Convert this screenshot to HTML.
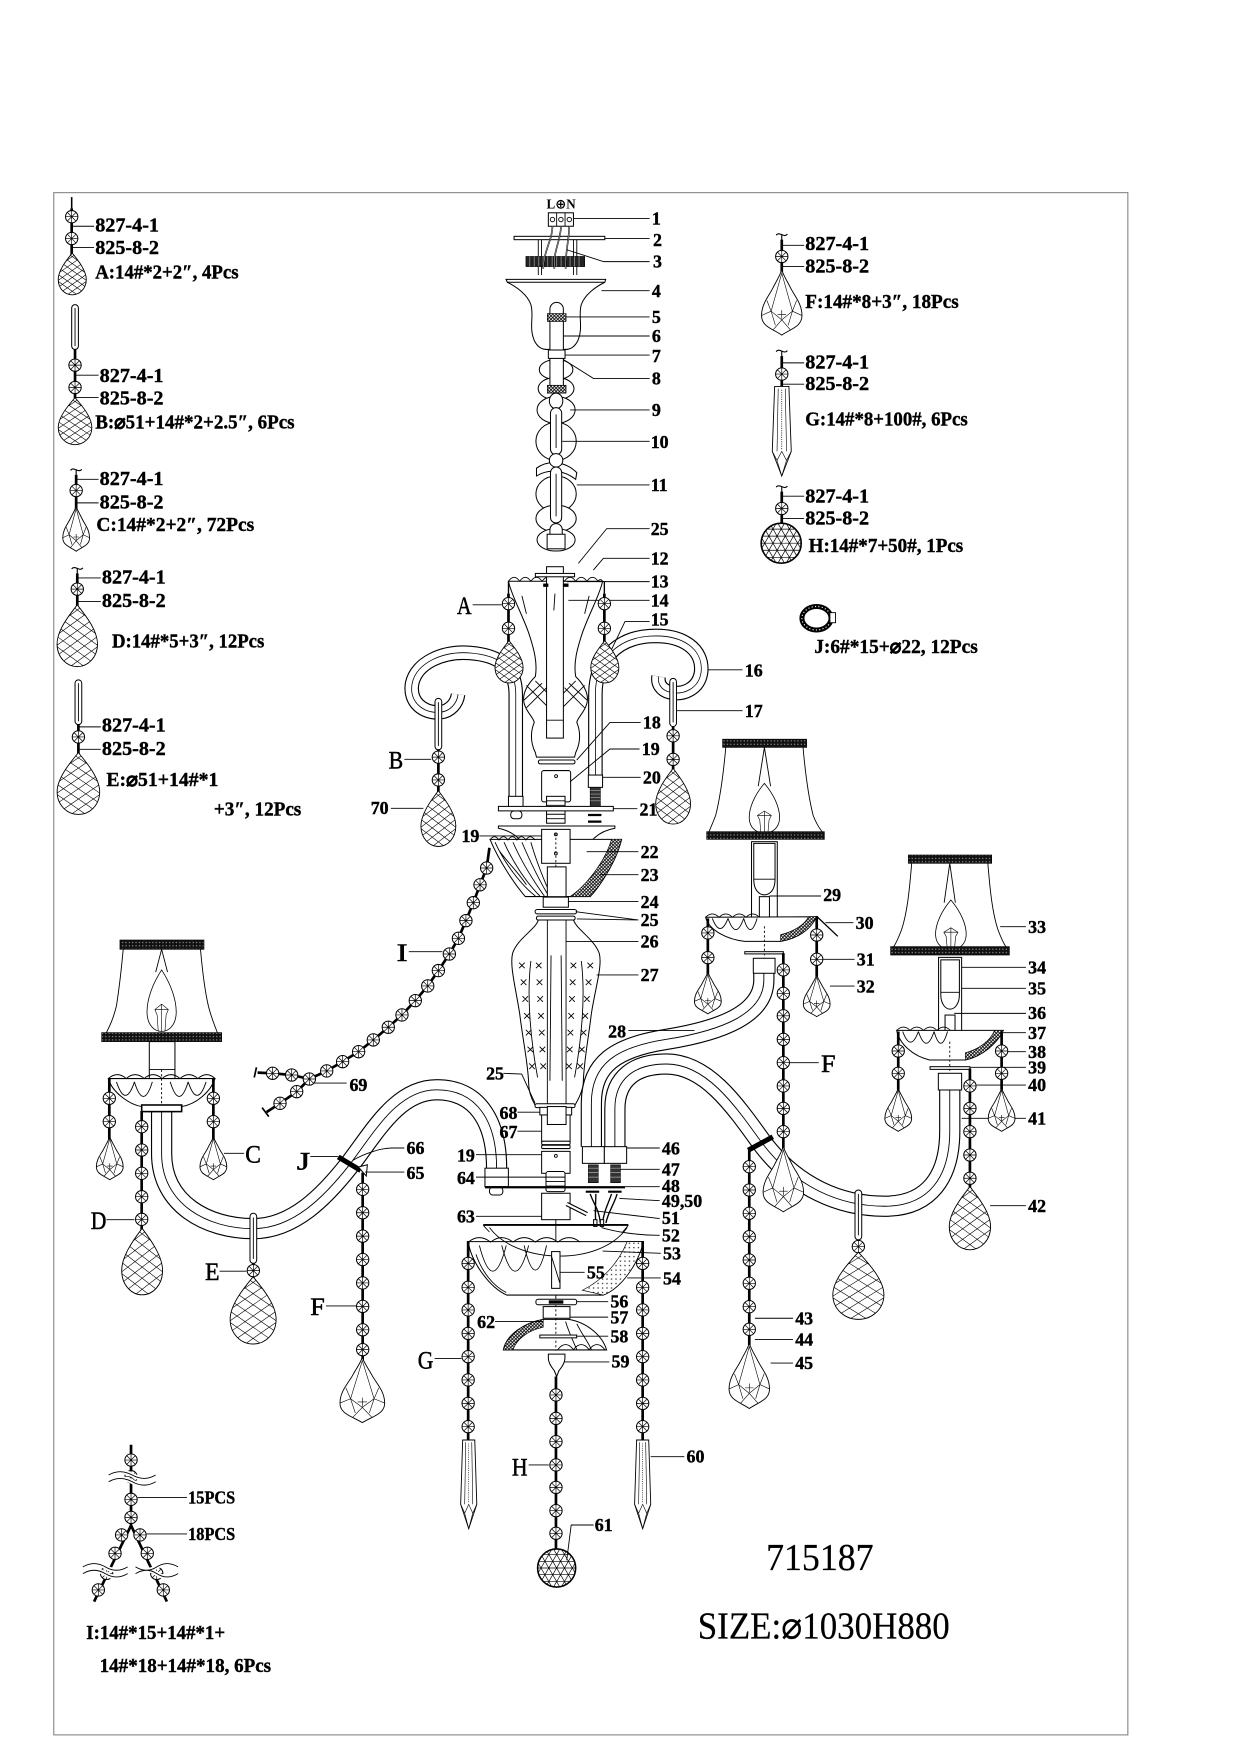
<!DOCTYPE html>
<html><head><meta charset="utf-8">
<style>
body{margin:0;background:#fff}
svg{display:block}
.s{fill:none;stroke:#000;stroke-width:0.8}
.w{fill:#fff;stroke:#000;stroke-width:0.9}
.st{stroke:#000;stroke-width:2.4;fill:none}
.h{fill:url(#hatch);stroke:#000;stroke-width:0.6}
.bd{fill:url(#band);stroke:#000;stroke-width:0.6}
.n{font-family:"Liberation Serif",serif;font-weight:bold;font-size:16px;stroke:#000;stroke-width:0.35}
.lg{font-family:"Liberation Serif","DejaVu Serif",serif;font-weight:bold;font-size:18px;stroke:#000;stroke-width:0.35}
.L{font-family:"Liberation Serif",serif;font-size:23px;stroke:#000;stroke-width:0.45}
.big{font-family:"Liberation Serif","DejaVu Serif",serif;font-size:34px;stroke:#000;stroke-width:0.2}
</style></head><body>
<svg width="1240" height="1755" viewBox="0 0 1107.14 1566.96" xmlns="http://www.w3.org/2000/svg">
<defs>
<pattern id="hatch" width="3" height="3" patternUnits="userSpaceOnUse"><rect width="3" height="3" fill="#fff"/><path d="M0,0L3,3M3,0L0,3" stroke="#000" stroke-width="0.7"/></pattern>
<pattern id="dots" width="4" height="4" patternUnits="userSpaceOnUse"><rect width="4" height="4" fill="#fff"/><circle cx="2" cy="2" r="0.6" fill="#000"/></pattern>
<pattern id="band" width="3" height="3" patternUnits="userSpaceOnUse"><rect width="3" height="3" fill="#111"/><circle cx="1.5" cy="1.5" r="0.55" fill="#aaa"/></pattern>
<g id="ros"><circle r="5.5" fill="#fff" stroke="#000" stroke-width="0.9"/><path d="M-5.5,0H5.5M0,-5.5V5.5M-3.9,-3.9L3.9,3.9M-3.9,3.9L3.9,-3.9" stroke="#000" stroke-width="0.6"/></g>
<clipPath id="cdrop"><path d="M0,0 C-6,8 -19,24 -19,38 C-19,51 -10,60 0,60 C10,60 19,51 19,38 C19,24 6,8 0,0Z"/></clipPath>
<g id="drop"><path d="M0,0 C-6,8 -19,24 -19,38 C-19,51 -10,60 0,60 C10,60 19,51 19,38 C19,24 6,8 0,0Z" fill="#fff" stroke="#000" stroke-width="0.9" vector-effect="non-scaling-stroke"/>
<g clip-path="url(#cdrop)"><path d="M-20,-30L20,0M-20,-20L20,10M-20,-10L20,20M-20,0L20,30M-20,10L20,40M-20,20L20,50M-20,30L20,60M-20,40L20,70M-20,50L20,80M20,-30L-20,0M20,-20L-20,10M20,-10L-20,20M20,0L-20,30M20,10L-20,40M20,20L-20,50M20,30L-20,60M20,40L-20,70M20,50L-20,80" stroke="#000" stroke-width="0.6" fill="none" vector-effect="non-scaling-stroke"/></g></g>
<g id="pear"><path d="M0,0 C-2,6 -5,10 -8,16 C-12,24 -19,31 -19,42 C-19,52 -9,54 0,60 C9,54 19,52 19,42 C19,31 12,24 8,16 C5,10 2,6 0,0Z" fill="#fff" stroke="#000" stroke-width="0.9" vector-effect="non-scaling-stroke"/>
<path d="M0,3 L-10,38 L0,46 L10,38 Z M-19,42 L-10,38 M19,42 L10,38 M0,46 L-8,55 M0,46 L8,55 M-10,38 L-6,51 M10,38 L6,51 M-14,28 L-10,38 M14,28 L10,38 M-4,41 L4,41 M0,37 V45" stroke="#000" stroke-width="0.6" fill="none" vector-effect="non-scaling-stroke"/></g>
<g id="icicle"><path d="M-6,0 L6,0 L8,58 L0,80 L-8,58Z" fill="#fff" stroke="#000" stroke-width="0.9" vector-effect="non-scaling-stroke"/>
<path d="M-3,2 L-4,58 M3,2 L4,58 M-8,58 L-4,66 L0,58 L4,66 L8,58 M-4,66 L0,80 L4,66" stroke="#000" stroke-width="0.6" fill="none" vector-effect="non-scaling-stroke"/><path d="M0,3V57" stroke="#000" stroke-width="0.6" stroke-dasharray="1 1"/></g>
<clipPath id="cball"><circle r="17"/></clipPath>
<g id="ball"><circle r="17" fill="#fff" stroke="#000" stroke-width="1.4"/><g clip-path="url(#cball)"><path d="M-20,-12H20M-20,-6H20M-20,0H20M-20,6H20M-20,12H20M-34,-34.6L6,34.6M-27,-34.6L13,34.6M-20,-34.6L20,34.6M-13,-34.6L27,34.6M-6,-34.6L34,34.6M1,-34.6L41,34.6M-41,-34.6L-1,34.6M34,-34.6L-6,34.6M27,-34.6L-13,34.6M20,-34.6L-20,34.6M13,-34.6L-27,34.6M6,-34.6L-34,34.6M-1,-34.6L-41,34.6M41,-34.6L1,34.6" stroke="#000" stroke-width="0.6" fill="none"/></g></g>
<g id="bulb"><path d="M0,0 C-8,10 -13.5,22 -13,32 C-12.5,40 -7,45 0,45 C7,45 12.5,40 13,32 C13.5,22 8,10 0,0Z" fill="#fff" stroke="#000" stroke-width="0.8" vector-effect="non-scaling-stroke"/><path d="M-3,45 L-4,33 L-6,29 L0,25 L6,29 L4,33 L3,45 M-6,29 H6 M0,25 V45" stroke="#000" stroke-width="0.6" fill="none" vector-effect="non-scaling-stroke"/></g>
<g id="hook"><path d="M-5,0 C-2,-4 2,3 5,-1 M0,-1 V6" stroke="#000" stroke-width="1" fill="none"/></g>
<path id="armL" d="M144.3,992 L144.3,1030 C144.3,1075 185,1097 226,1097 C262,1097 290,1068 312,1040 C335,1010 355,973 390,973 C425,973 443.4,1000 443.4,1043"/>
<path id="armU" d="M528,1024 L528,985 C528,950 550,935 595,928 C645,920 682,905 682,875 L682,869"/>
<path id="armR" d="M549,1024 L549,990 C549,962 568,950 595,950 C630,950 655,985 680,1020 C710,1060 750,1077 790,1077 C830,1077 848,1050 848,1010 L848,973"/>
<path id="arm16L" d="M460.5,711 L460.5,620 C460.5,595 445,585 420,583 C395,581 372,592 368,610 C365,627 378,637 393,636 C402,635 408,628 409,620"/>
<path id="arm16R" d="M531.6,693 L531.6,620 C531.6,590 550,570 580,568 C610,566 628,580 626,600 C624,615 610,621 598,618 C590,616 587,610 588,604"/>
</defs>
<rect width="1107.14" height="1566.96" fill="#fff"/>
<rect x="48" y="172" width="959" height="1377" fill="none" stroke="#888" stroke-width="1"/>

<!-- ===== LEFT LEGEND ===== -->
<path d="M64,176V186" stroke="#000" stroke-width="1.4"/><path class="st" d="M64,186V228"/>
<use href="#ros" x="64" y="193.5"/><use href="#ros" x="64" y="213"/>
<use href="#drop" transform="translate(64.5,226) scale(0.66,0.62)"/>
<path class="s" d="M65,202H84M65,221H84"/>
<text class="lg" x="85" y="206.5">827-4-1</text><text class="lg" x="85" y="227">825-8-2</text>
<text class="lg" x="85" y="248.5" textLength="128" lengthAdjust="spacingAndGlyphs">A:14#*2+2″, 4Pcs</text>

<rect class="w" x="64" y="272" width="6" height="40" rx="3"/><path class="s" d="M67,275V309"/>
<path class="st" d="M67,312V358"/>
<use href="#ros" x="67" y="326"/><use href="#ros" x="67" y="346"/>
<use href="#drop" transform="translate(67,355) scale(0.79,0.7)"/>
<path class="s" d="M68,335H88M68,355H88"/>
<text class="lg" x="89" y="341">827-4-1</text><text class="lg" x="89" y="361">825-8-2</text>
<text class="lg" x="85" y="382.5" textLength="178" lengthAdjust="spacingAndGlyphs">B:⌀51+14#*2+2.5″, 6Pcs</text>

<use href="#hook" x="68" y="420"/><path class="st" d="M68,424V455"/>
<use href="#ros" x="68" y="438"/>
<use href="#pear" transform="translate(68,452) scale(0.63,0.67)"/>
<path class="s" d="M69,428H88M69,449H88"/>
<text class="lg" x="89" y="433">827-4-1</text><text class="lg" x="89" y="454">825-8-2</text>
<text class="lg" x="86" y="474" textLength="141" lengthAdjust="spacingAndGlyphs">C:14#*2+2″, 72Pcs</text>

<use href="#hook" x="69" y="508"/><path class="st" d="M69,512V542"/>
<use href="#ros" x="69" y="526"/>
<use href="#drop" transform="translate(69,540) scale(0.95,0.92)"/>
<path class="s" d="M70,516H90M70,537H90"/>
<text class="lg" x="91" y="521">827-4-1</text><text class="lg" x="91" y="542">825-8-2</text>
<text class="lg" x="100" y="578" textLength="136" lengthAdjust="spacingAndGlyphs">D:14#*5+3″, 12Pcs</text>

<rect class="w" x="67" y="607" width="6" height="40" rx="3"/><path class="s" d="M70,610V644"/>
<path class="st" d="M70,647V675"/>
<use href="#ros" x="70" y="658"/>
<use href="#drop" transform="translate(70,672) scale(1,0.92)"/>
<path class="s" d="M71,649H90M71,669H90"/>
<text class="lg" x="91" y="653">827-4-1</text><text class="lg" x="91" y="674">825-8-2</text>
<text class="lg" x="95" y="702" textLength="100" lengthAdjust="spacingAndGlyphs">E:⌀51+14#*1</text>
<text class="lg" x="191" y="728" textLength="78" lengthAdjust="spacingAndGlyphs">+3″, 12Pcs</text>

<!-- ===== RIGHT LEGEND ===== -->
<use href="#hook" x="698" y="210"/><path class="st" d="M698,214V243"/>
<use href="#ros" x="698" y="229"/>
<use href="#pear" transform="translate(698,241) scale(0.95,0.97)"/>
<path class="s" d="M699,219H718M699,238H718"/>
<text class="lg" x="719" y="223">827-4-1</text><text class="lg" x="719" y="243.5">825-8-2</text>
<text class="lg" x="719" y="275" textLength="137" lengthAdjust="spacingAndGlyphs">F:14#*8+3″, 18Pcs</text>

<use href="#hook" x="698" y="314"/><path class="st" d="M698,318V347"/>
<use href="#ros" x="698" y="334"/>
<use href="#icicle" transform="translate(698,345) scale(1.06,1)"/>
<path class="s" d="M699,324H718M699,343H718"/>
<text class="lg" x="719" y="329">827-4-1</text><text class="lg" x="719" y="348">825-8-2</text>
<text class="lg" x="719" y="380" textLength="145" lengthAdjust="spacingAndGlyphs">G:14#*8+100#, 6Pcs</text>

<use href="#hook" x="698" y="435"/><path class="st" d="M698,439V470"/>
<use href="#ros" x="698" y="454"/>
<use href="#ball" transform="translate(697.5,485) scale(1.05)"/>
<path class="s" d="M699,443H718M699,463H718"/>
<text class="lg" x="719" y="448.5">827-4-1</text><text class="lg" x="719" y="468.5">825-8-2</text>
<text class="lg" x="722" y="493" textLength="138" lengthAdjust="spacingAndGlyphs">H:14#*7+50#, 1Pcs</text>

<ellipse cx="729" cy="552" rx="13" ry="10.5" fill="none" stroke="#000" stroke-width="4.5"/>
<ellipse cx="729" cy="552" rx="13" ry="10.5" fill="none" stroke="#fff" stroke-width="1" stroke-dasharray="1 2"/>
<rect x="741" y="547" width="5" height="9" fill="#fff" stroke="#000" stroke-width="0.8"/>
<text class="lg" x="727" y="583" textLength="146" lengthAdjust="spacingAndGlyphs">J:6#*15+⌀22, 12Pcs</text>

<!-- ===== TOP COLUMN ===== -->
<text x="488" y="186" style="font-family:'Liberation Serif','DejaVu Sans',serif;font-weight:bold;font-size:12px" textLength="26" lengthAdjust="spacingAndGlyphs">L⊕N</text>
<rect class="w" x="489.6" y="190" width="22.4" height="12"/>
<path class="s" d="M497,190V202M504.5,190V202"/>
<circle cx="493.3" cy="196" r="2" class="s"/><circle cx="500.8" cy="196" r="2" class="s"/><circle cx="508.3" cy="196" r="2" class="s"/>
<path class="s" d="M512,195H580"/><text class="n" x="582" y="200.5">1</text>
<rect class="w" x="459" y="211" width="81" height="3"/>
<path class="s" d="M540,213H580"/><text class="n" x="583" y="219.5">2</text>
<path class="s" d="M480.6,214V245.5M515,214V245.5M483.5,214V245.5M512,214V245.5"/>
<rect x="469.6" y="229" width="52.4" height="9" fill="#222" stroke="#000" stroke-width="0.6"/>
<path d="M473,229V238M477,229V238M481,229V238M485,229V238M489,229V238M493,229V238M497,229V238M501,229V238M505,229V238M509,229V238M513,229V238M517,229V238" stroke="#888" stroke-width="0.8"/>
<path d="M493.3,202 C493,215 486,222 485,240 M500.8,202 C501,215 494,222 495,240 M508.3,202 C508,215 505,222 505,240" stroke="#000" stroke-width="1.4" fill="none"/>
<path d="M493.3,202 C493,215 486,222 485,240 M500.8,202 C501,215 494,222 495,240 M508.3,202 C508,215 505,222 505,240" stroke="#fff" stroke-width="0.4" fill="none"/>
<path class="s" d="M506,223 L539,233.6 H580"/><text class="n" x="583" y="239">3</text>
<path class="w" d="M451.8,249.4 H540.8 L540,252 C532,256 522,263 519,272 C516,282 521,292 516,304 C513,310 509,312 505,312 L488,312 C484,312 480,310 477,304 C472,292 477,282 474,272 C471,263 461,256 453,252 Z"/>
<path class="s" d="M453,252 H540"/>
<path class="s" d="M537,259.5H580"/><text class="n" x="582" y="265">4</text>
<!-- beads -->
<ellipse class="w" cx="496.5" cy="330" rx="15" ry="9"/>
<ellipse class="w" cx="496.5" cy="347" rx="16" ry="10"/>
<ellipse class="w" cx="496.5" cy="366" rx="17" ry="12"/>
<ellipse class="w" cx="496.5" cy="394" rx="18" ry="17"/>
<path class="w" d="M479,418 C490,410 505,412 515,422 L514,428 C504,420 490,418 479,425Z"/>
<ellipse class="w" cx="496.5" cy="441" rx="18" ry="16"/>
<ellipse class="w" cx="496.5" cy="463" rx="18" ry="12"/>
<ellipse class="w" cx="496.5" cy="482" rx="17" ry="10"/>
<!-- rod & chain -->
<path class="w" d="M491,348 V276 A6,6 0 0 1 503,276 V348 Z"/>
<rect class="h" x="488.7" y="280" width="16.7" height="7"/>
<rect class="w" x="489.6" y="312.5" width="14.9" height="7.5"/>
<rect class="h" x="488.7" y="344" width="16.7" height="7"/>
<ellipse class="w" cx="496.5" cy="358" rx="6" ry="7" stroke-width="1.6"/>
<rect class="w" x="491.5" y="364" width="10" height="42" rx="5" stroke-width="1.6"/>
<path class="s" d="M496.5,370V400"/>
<ellipse class="w" cx="496.5" cy="411" rx="6" ry="6" stroke-width="1.6"/>
<rect class="w" x="491.5" y="417" width="10" height="50" rx="5" stroke-width="1.6"/>
<path class="s" d="M496.5,423V461"/>
<path class="w" d="M491,478 V473 A5.5,5.5 0 0 1 502,473 V478" stroke-width="1.5"/>
<rect class="w" x="488.5" y="477" width="16" height="13" stroke-width="1.3"/>
<path class="s" d="M505,283H580"/><text class="n" x="582" y="288.5">5</text>
<path class="s" d="M503,300H580"/><text class="n" x="582" y="305.5">6</text>
<path class="s" d="M504.5,317H580"/><text class="n" x="582" y="323">7</text>
<path class="s" d="M503,321 L530,338 H580"/><text class="n" x="582" y="343.5">8</text>
<path class="s" d="M509,366H580"/><text class="n" x="582" y="371.5">9</text>
<path class="s" d="M502,394H580"/><text class="n" x="581" y="400">10</text>
<path class="s" d="M515,433H580"/><text class="n" x="581" y="438.5">11</text>
<path class="s" d="M580,472 H541.7 L516.4,503"/><text class="n" x="581" y="477.5">25</text>
<path class="s" d="M580,498.5 H538.7 L529.8,509"/><text class="n" x="581" y="504">12</text>

<!-- ===== UPPER ARMS 16 ===== -->
<use href="#arm16L" stroke="#000" stroke-width="13" fill="none"/>
<use href="#arm16L" stroke="#fff" stroke-width="11" fill="none"/>
<use href="#arm16L" stroke="#000" stroke-width="0.7" fill="none"/>
<use href="#arm16R" stroke="#000" stroke-width="13" fill="none"/>
<use href="#arm16R" stroke="#fff" stroke-width="11" fill="none"/>
<use href="#arm16R" stroke="#000" stroke-width="0.7" fill="none"/>
<rect class="w" x="454" y="711" width="13" height="11"/>
<rect class="w" x="456" y="724" width="10" height="7" rx="3"/>
<rect class="w" x="525.3" y="692" width="12.7" height="11"/>
<rect x="527" y="703" width="9" height="17" fill="#333" stroke="#000" stroke-width="0.6"/>
<path d="M527,706H536M527,709H536M527,712H536M527,715H536" stroke="#aaa" stroke-width="0.6"/>

<!-- cup 13/14 -->
<path class="w" d="M454,519 C456,530 466,548 472,565 C477,580 480,592 478,604 C470,612 466,620 468,628 C470,636 476,640 477,645 C474,652 473,662 478,672 L479,676 L513,676 L514,672 C519,662 518,652 515,645 C516,640 522,636 524,628 C526,620 522,612 514,604 C512,592 515,580 520,565 C526,548 536,530 538,519 Z"/>
<path class="s" d="M454,519 q5,-7 10,0 q5,-7 10,0 q5,-7 10,0 q5,-7 10,0 q5,-7 10,0 q5,-7 10,0 q5,-7 10,0 q5,-7 10,0 q2,-3 4,0"/>
<path class="s" d="M466,532 L470,548 M526,532 L522,548 M496,535 L496,550"/>
<path class="s" d="M470,612 L496,638 L522,612 M478,608 L500,630 M514,608 L492,630 M468,625 L484,610 M524,625 L508,610 M470,632 L488,614 M522,632 L504,614"/>
<rect class="w" x="488" y="506" width="15" height="153"/>
<path class="s" d="M488,643H503"/>
<rect class="w" x="478" y="512" width="35" height="3"/>
<rect x="485" y="521" width="4.6" height="3" fill="#000"/><rect x="503" y="521" width="4.6" height="3" fill="#000"/>
<path class="s" d="M495.5,530 L494.5,545"/>
<rect class="w" x="480.7" y="678.6" width="32.7" height="3.4" rx="1.5"/>
<rect class="w" x="483.6" y="688" width="25.9" height="28" rx="2"/>
<circle cx="496.5" cy="693" r="1.3" class="s"/>
<rect class="w" x="488" y="711" width="16.5" height="24"/>
<path class="s" d="M488,715H504.5M488,719H504.5M488,723H504.5M488,727H504.5M488,731H504.5"/>
<rect class="w" x="445" y="720" width="102.6" height="4"/>
<path d="M525,727.7H537M525,733.6H537" stroke="#000" stroke-width="2"/>
<path class="s" d="M506,519.3H580"/><text class="n" x="581" y="524.5">13</text>
<path class="s" d="M507.5,536H580"/><text class="n" x="581" y="541.5">14</text>
<path class="s" d="M546,580 L558,555 H580"/><text class="n" x="581" y="558.5">15</text>
<path class="s" d="M632.5,598H663"/><text class="n" x="665" y="604">16</text>
<path class="s" d="M604,634.5H663"/><text class="n" x="665" y="640">17</text>
<path class="s" d="M514.9,678.6 L544.6,645 H572"/><text class="n" x="574" y="650.5">18</text>
<path class="s" d="M509,698 L544.6,668.75 H571"/><text class="n" x="573" y="674">19</text>
<path class="s" d="M538,694H572"/><text class="n" x="574" y="699.5">20</text>
<path class="s" d="M547.6,722H569"/><text class="n" x="571" y="728">21</text>

<!-- A pendants -->
<path d="M454,519V530" stroke="#000" stroke-width="1.2"/><path class="st" d="M454,530V575"/>
<use href="#ros" x="454" y="539"/><use href="#ros" x="454" y="561"/>
<use href="#drop" transform="translate(454.5,572) scale(0.66,0.63)"/>
<path d="M539.6,519V530" stroke="#000" stroke-width="1.2"/><path class="st" d="M539.6,530V575"/>
<use href="#ros" x="539.6" y="539"/><use href="#ros" x="539.6" y="561"/>
<use href="#drop" transform="translate(540,572) scale(0.66,0.63)"/>
<text class="L" x="408" y="548" textLength="13" lengthAdjust="spacingAndGlyphs">A</text>
<path class="s" d="M422,540H448"/>
<!-- B & 17 pendants -->
<rect class="w" x="388.4" y="623.5" width="6" height="46" rx="3"/><path class="s" d="M391.4,627V666"/>
<path class="st" d="M391.4,669V708"/>
<use href="#ros" x="391.4" y="676"/><use href="#ros" x="391.4" y="696.4"/>
<use href="#drop" transform="translate(391.4,706) scale(0.82,0.83)"/>
<text class="L" x="347" y="686" textLength="13" lengthAdjust="spacingAndGlyphs">B</text>
<path class="s" d="M361,678H385"/>
<text class="n" x="331" y="727">70</text><path class="s" d="M349,721.7H378"/>
<rect class="w" x="598" y="605.7" width="6" height="43" rx="3"/><path class="s" d="M601,609V645"/>
<path class="st" d="M601,649V688"/>
<use href="#ros" x="601" y="657"/><use href="#ros" x="601" y="678"/>
<use href="#drop" transform="translate(601,686) scale(0.82,0.83)"/>

<!-- ===== ARMS (main) ===== -->
<use href="#armL" stroke="#000" stroke-width="19" fill="none"/>
<use href="#armL" stroke="#fff" stroke-width="17" fill="none"/>
<use href="#armL" stroke="#000" stroke-width="0.8" fill="none"/>
<use href="#armR" stroke="#000" stroke-width="19" fill="none"/>
<use href="#armR" stroke="#fff" stroke-width="17" fill="none"/>
<use href="#armR" stroke="#000" stroke-width="0.8" fill="none"/>
<use href="#armU" stroke="#000" stroke-width="19" fill="none"/>
<use href="#armU" stroke="#fff" stroke-width="17" fill="none"/>
<use href="#armU" stroke="#000" stroke-width="0.8" fill="none"/>

<!-- ===== MIDDLE DISH 22/23 ===== -->
<path class="w" d="M445,737.5 H549 V739.5 C535,742 525,750 520,766 L474,766 C468,750 458,742 445,739.5 Z"/>
<path class="w" d="M437.5,749.4 H555 C550,770 535,792 527,800.5 L469,800.5 C460,790 445,768 437.5,749.4 Z"/>
<path class="h" d="M555,749.4 C550,770 535,792 527,800.5 L509,800.5 C522,792 540,770 546,749.4 Z"/>
<path class="s" d="M437.5,750 q4,-6 8,0 q4,-6 8,0 q4,-6 8,0 q4,-6 8,0 q4,-6 8,0 M442,752 C450,770 465,790 478,800 M450,752 C458,770 470,788 482,800 M458,752 C465,768 476,786 486,800 M466,752 C472,766 480,784 490,800 M474,752 C478,766 484,782 492,800 M446,760 C455,772 462,778 470,790"/>
<rect class="w" x="483.6" y="740.5" width="25.4" height="30.3"/>
<path class="s" d="M496.3,744V800" stroke-dasharray="2 2"/>
<circle cx="496.3" cy="745" r="1.3" class="s"/><circle cx="496.3" cy="762" r="1.3" class="s"/>
<rect class="w" x="488.7" y="774" width="16.7" height="26.6"/>
<path class="s" d="M428,746.4H483.6"/><text class="n" x="412" y="752">19</text>
<path class="s" d="M523.8,760.4H570"/><text class="n" x="572" y="766">22</text>
<path class="s" d="M535.7,781H570"/><text class="n" x="572" y="786.5">23</text>
<rect class="w" x="485" y="801" width="22.5" height="9"/>
<path class="s" d="M507.5,805H570"/><text class="n" x="572" y="810.5">24</text>
<rect class="w" x="477.7" y="812" width="37.2" height="4" rx="2"/>
<rect class="w" x="479" y="818" width="34.5" height="3.5" rx="1.5"/>
<path class="s" d="M514,814 L570,821.4 M515,820.5 L570,821.4"/><text class="n" x="572" y="827">25</text>

<!-- vase 27 -->
<path class="w" d="M480.7,821.4 L512,821.4 C515,830 530,838 535,851 C538,862 532,880 528,905 C525,930 521,950 520.8,967 C520,975 516,982 513.4,986.6 L477.7,986.6 C475,982 472,975 472,967 C471.5,950 467,930 464,905 C460,880 455,862 457.7,851 C462,838 478,830 480.7,821.4 Z"/>
<path class="s" d="M474,858 C470,890 474,930 480,962 M519,858 C523,890 519,930 513,962 M492,853 L491,965 M501,853 L502,965"/>
<path class="s" d="M463.5,859.5l5,5m0,-5l-5,5 M478.5,859.5l5,5m0,-5l-5,5 M509.5,859.5l5,5m0,-5l-5,5 M524.5,859.5l5,5m0,-5l-5,5
M465,874.5l5,5m0,-5l-5,5 M479.2,874.5l5,5m0,-5l-5,5 M508.8,874.5l5,5m0,-5l-5,5 M523,874.5l5,5m0,-5l-5,5
M466.5,889.5l5,5m0,-5l-5,5 M479.8,889.5l5,5m0,-5l-5,5 M508.2,889.5l5,5m0,-5l-5,5 M521.5,889.5l5,5m0,-5l-5,5
M468,904.5l5,5m0,-5l-5,5 M480.5,904.5l5,5m0,-5l-5,5 M507.5,904.5l5,5m0,-5l-5,5 M520,904.5l5,5m0,-5l-5,5
M469.5,919.5l5,5m0,-5l-5,5 M481.2,919.5l5,5m0,-5l-5,5 M506.8,919.5l5,5m0,-5l-5,5 M518.5,919.5l5,5m0,-5l-5,5
M471,934.5l5,5m0,-5l-5,5 M481.8,934.5l5,5m0,-5l-5,5 M506.2,934.5l5,5m0,-5l-5,5 M517,934.5l5,5m0,-5l-5,5
M472.5,949.5l5,5m0,-5l-5,5 M482.5,949.5l5,5m0,-5l-5,5 M505.5,949.5l5,5m0,-5l-5,5 M515.5,949.5l5,5m0,-5l-5,5"/>
<path class="s" d="M488.7,821V1004 M505.4,821V1004"/>
<path class="s" d="M505.4,840.7H570"/><text class="n" x="572" y="846">26</text>
<path class="s" d="M532.7,870.5H570"/><text class="n" x="572" y="876">27</text>
<rect class="w" x="477.7" y="985.5" width="35.7" height="3.5" rx="1.5"/>
<path class="s" d="M449.4,958.3 L465.8,959 L477.7,985"/><text class="n" x="434" y="964">25</text>
<rect class="w" x="482" y="988.7" width="28.4" height="6.8"/>
<rect class="w" x="483.6" y="995.5" width="25.4" height="23.5"/>
<rect class="w" x="488.7" y="988" width="16.7" height="16"/>
<path class="s" d="M462,993H482"/><text class="n" x="446" y="999">68</text>
<path class="s" d="M462,1010H483.6"/><text class="n" x="446" y="1016">67</text>
<rect class="w" x="483.6" y="1019" width="25.4" height="3" rx="1"/><rect class="w" x="483.6" y="1022.5" width="25.4" height="3" rx="1"/>
<rect class="w" x="483.6" y="1028" width="25.4" height="19.6"/>
<circle cx="496.3" cy="1032" r="1.3" class="s"/>
<path class="s" d="M425,1031H483.6"/><text class="n" x="408" y="1037">19</text>
<rect class="w" x="433" y="1043" width="20.9" height="16.5"/>
<rect class="w" x="437" y="1060" width="12" height="7" rx="3"/>
<rect class="w" x="487.5" y="1046" width="17" height="18" rx="2"/>
<path class="s" d="M487.5,1051H504.5M487.5,1055H504.5M487.5,1059H504.5"/>
<path class="s" d="M425,1051H488"/><text class="n" x="408" y="1057">64</text>
<path d="M433,1060H558" stroke="#000" stroke-width="2"/>
<path class="s" d="M558,1059.5H589"/><text class="n" x="591" y="1064.5">48</text>
<rect class="w" x="520" y="1023.8" width="19.6" height="14.9"/><rect class="w" x="539.6" y="1023.8" width="19.9" height="14.9"/>
<path class="s" d="M559.5,1025H589"/><text class="n" x="591" y="1031">46</text>
<rect x="525.3" y="1040" width="8.9" height="16" fill="#333" stroke="#000" stroke-width="0.5"/>
<rect x="545.2" y="1040" width="8.8" height="16" fill="#333" stroke="#000" stroke-width="0.5"/>
<path d="M525.3,1043H534.2M525.3,1047H534.2M525.3,1051H534.2M545.2,1043H554M545.2,1047H554M545.2,1051H554" stroke="#aaa" stroke-width="0.6"/>
<path class="s" d="M554,1044H589"/><text class="n" x="591" y="1049.5">47</text>
<path d="M523,1064H535M543,1064H555" stroke="#000" stroke-width="2"/>
<path d="M527,1066 C530,1075 535,1080 536,1092 M532,1066 C532,1075 531,1082 532,1092 M546,1066 C543,1075 539,1082 538,1092 M551,1066 C548,1076 543,1082 541,1092" stroke="#000" stroke-width="1.2" fill="none"/>
<path class="s" d="M553,1070 L589,1072"/><text class="n" x="591" y="1077.5">49,50</text>
<rect class="w" x="483.6" y="1065.4" width="25.4" height="23.6"/>
<path class="s" d="M425,1086H483.6"/><text class="n" x="408" y="1091.5">63</text>
<path d="M506,1075 L524,1084" stroke="#000" stroke-width="4"/><path d="M506,1075 L524,1084" stroke="#fff" stroke-width="2"/>
<path class="s" d="M530,1081 L589,1088"/><text class="n" x="591" y="1093">51</text>
<rect class="w" x="530" y="1089" width="3" height="6"/><rect class="w" x="536" y="1089" width="3" height="6"/>
<path class="s" d="M537,1096 C550,1100 570,1103 589,1103"/><text class="n" x="591" y="1108.5">52</text>
<path class="s" d="M496.3,1089V1160"/>

<!-- lower bowl -->
<path d="M431.5,1093.7H561" stroke="#000" stroke-width="1.6"/>
<path class="w" d="M418,1108.6 C421,1128 438,1150 452.4,1156.3 L538.7,1156.3 C555,1150 570,1128 574.4,1108.6 Z"/>
<path d="M574.4,1108.6 C570,1128 555,1150 538.7,1156.3 L520,1152 C538,1143 552,1128 560,1108.6 Z" fill="url(#dots)" stroke="#000" stroke-width="0.6"/>
<path class="s" d="M437,1096 C460,1128 535,1132 560,1096 M431.5,1094 L437,1100 M561,1094 L556,1100"/>
<path class="s" d="M418,1109 q10,-8 20,0 q10,-8 20,0 q10,-8 20,0 q10,-8 20,0 q10,-8 20,0 M428,1112 Q440,1158 452,1112 M448,1112 Q460,1158 472,1112 M468,1112 Q478,1156 488,1112 M425,1120 C430,1135 440,1148 452,1154"/>
<rect class="w" x="492.5" y="1117.5" width="7.5" height="32.8"/>
<path class="s" d="M492.5,1122 L500,1146"/>
<path class="s" d="M500,1136H522"/><text class="n" x="524" y="1141.5">55</text>
<path class="s" d="M538,1117 L590,1119"/><text class="n" x="592" y="1124.5">53</text>
<path class="s" d="M560,1141H590"/><text class="n" x="592" y="1147">54</text>
<rect class="w" x="478.5" y="1160" width="36.4" height="5" rx="2"/>
<rect x="490" y="1161" width="13" height="3" fill="#000"/>
<path class="s" d="M514.9,1162.2H543"/><text class="n" x="545" y="1167.5">56</text>
<rect class="w" x="485" y="1166.6" width="23.9" height="10.4"/>
<path class="s" d="M508.9,1176H543"/><text class="n" x="545" y="1181.5">57</text>
<path class="w" d="M449.4,1205.3 C452,1192 468,1181 485,1178 L508,1178 C525,1181 538,1193 541.6,1205.3 Z"/>
<path class="h" d="M449.4,1205.3 C452,1192 468,1181 485,1178 L485,1185 C471,1188 461,1196 458,1205.3 Z"/>
<path class="s" d="M498,1205 q7,-9 14,0 q7,-9 14,0 q7,-9 14,0 M505,1180 C508,1190 512,1198 515,1205 M515,1182 C520,1192 525,1198 528,1205"/>
<path class="s" d="M496.3,1165V1206" stroke-dasharray="2 2"/>
<path class="s" d="M442,1180H485"/><text class="n" x="426" y="1185.5">62</text>
<rect class="w" x="482" y="1192" width="32.9" height="2.5"/>
<path class="s" d="M514.9,1193H543"/><text class="n" x="545" y="1198.5">58</text>
<path class="w" d="M489.6,1209 H504.4 V1213 C504,1219 500,1222 499,1224 L497,1229 L495,1224 C494,1222 490,1219 489.6,1213 Z"/>
<path class="s" d="M504,1216H544"/><text class="n" x="546" y="1221">59</text>

<!-- H chain -->
<path class="st" d="M496.4,1229V1386"/>
<use href="#ros" x="496.4" y="1245.5"/><use href="#ros" x="496.4" y="1266.4"/><use href="#ros" x="496.4" y="1287.2"/><use href="#ros" x="496.4" y="1308"/><use href="#ros" x="496.4" y="1328"/><use href="#ros" x="496.4" y="1348.8"/><use href="#ros" x="496.4" y="1369"/>
<use href="#ball" x="497" y="1400"/>
<text class="L" x="457" y="1317.5" textLength="14" lengthAdjust="spacingAndGlyphs">H</text>
<path class="s" d="M472,1308H490"/>
<path class="s" d="M530,1361.6 H510 L506,1393"/><text class="n" x="531" y="1367">61</text>
<!-- G chains -->
<path class="st" d="M418,1108V1288"/>
<use href="#ros" x="418" y="1128"/><use href="#ros" x="418" y="1149.4"/><use href="#ros" x="418" y="1169.6"/><use href="#ros" x="418" y="1190.5"/><use href="#ros" x="418" y="1211.3"/><use href="#ros" x="418" y="1232.1"/><use href="#ros" x="418" y="1253"/><use href="#ros" x="418" y="1273.8"/>
<use href="#icicle" transform="translate(418.5,1285.7) scale(0.9,0.99)"/>
<text class="L" x="373" y="1222" textLength="14" lengthAdjust="spacingAndGlyphs">G</text>
<path class="s" d="M388,1213H412"/>
<path class="st" d="M573.8,1108V1288"/>
<use href="#ros" x="573.8" y="1128"/><use href="#ros" x="573.8" y="1149.4"/><use href="#ros" x="573.8" y="1169.6"/><use href="#ros" x="573.8" y="1190.5"/><use href="#ros" x="573.8" y="1211.3"/><use href="#ros" x="573.8" y="1232.1"/><use href="#ros" x="573.8" y="1253"/><use href="#ros" x="573.8" y="1273.8"/>
<use href="#icicle" transform="translate(573.8,1285.7) scale(0.9,0.99)"/>
<path class="s" d="M581,1300.6H611"/><text class="n" x="613" y="1306">60</text>

<!-- ===== LEFT LIGHT ===== -->
<path class="s" d="M110,847.6 C108,870 106,885 104,898 C101,910 98,916 95,922 M179,847.6 C181,870 183,885 186,898 C189,910 192,916 194,922"/>
<rect class="bd" x="107.1" y="839.3" width="75" height="8.3"/>
<path class="s" d="M144.3,847.6 L139,868 M144.3,847.6 L149.6,868"/>
<use href="#bulb" transform="translate(144.3,866) scale(1,1.22)"/>
<rect class="bd" x="90.8" y="922" width="107.1" height="8"/>
<rect class="w" x="133.3" y="930" width="22.9" height="62.5"/>
<path class="s" d="M133.3,955H156.2"/>
<path class="w" d="M96.7,963 C100,975 115,986 126.5,988 L162.2,988 C175,986 188,975 192,963 Z"/>
<path class="s" d="M96.7,963 q8,-7 16,0 q8,-7 16,0 q8,-7 16,0 q8,-7 16,0 q8,-7 16,0 q8,-7 15.3,0 M104,966 Q112,990 120,966 M120,966 Q128,992 136,966 M152,966 Q160,992 168,966 M168,966 Q176,990 184,966"/>
<path class="s" d="M144.3,955 V988" stroke-dasharray="2 2"/>
<rect x="126.5" y="986.6" width="35.7" height="5.9" fill="#fff" stroke="#000" stroke-width="1.4"/>
<path class="st" d="M97.6,963V1017"/><use href="#ros" x="97.6" y="980.6"/><use href="#ros" x="97.6" y="1001.5"/>
<use href="#pear" transform="translate(98,1014.9) scale(0.63,0.64)"/>
<path class="st" d="M190.5,963V1017"/><use href="#ros" x="190.5" y="980.6"/><use href="#ros" x="190.5" y="1001.5"/>
<use href="#pear" transform="translate(190.5,1014.9) scale(0.63,0.64)"/>
<text class="L" x="219" y="1038" textLength="14" lengthAdjust="spacingAndGlyphs">C</text>
<path class="s" d="M200,1029.7H218"/>
<path class="st" d="M126.5,992V1098"/>
<use href="#ros" x="126.5" y="1006"/><use href="#ros" x="126.5" y="1026.8"/><use href="#ros" x="126.5" y="1047.6"/><use href="#ros" x="126.5" y="1068.5"/><use href="#ros" x="126.5" y="1088.7"/>
<use href="#drop" transform="translate(126.9,1096.7) scale(0.96,0.99)"/>
<text class="L" x="81" y="1097.5" textLength="14" lengthAdjust="spacingAndGlyphs">D</text>
<path class="s" d="M95,1089H120"/>
<!-- E left -->
<rect class="w" x="223.2" y="1083.3" width="6" height="44.7" rx="3"/><path class="s" d="M226.2,1087V1124"/>
<path class="st" d="M226.2,1128V1142"/><use href="#ros" x="226.2" y="1134.5"/>
<use href="#drop" transform="translate(226,1140) scale(1.08,1)"/>
<text class="L" x="183" y="1143" textLength="13" lengthAdjust="spacingAndGlyphs">E</text>
<path class="s" d="M196,1135H220"/>
<!-- J left -->
<path d="M302,1033 L322,1045" stroke="#000" stroke-width="4.5"/>
<text class="L" x="265" y="1044" textLength="12" lengthAdjust="spacingAndGlyphs">J</text>
<path class="s" d="M277,1032.6H302"/>
<path class="s" d="M315,1036 C325,1030 340,1025 350,1025 H361"/><text class="n" x="363" y="1030.5">66</text>
<path class="w" d="M320,1042 L328,1040 L327,1050 Z"/>
<path class="s" d="M326,1046.5H361"/><text class="n" x="363" y="1052.5">65</text>
<path class="st" d="M323.8,1047V1216"/>
<use href="#ros" x="323.8" y="1061.9"/><use href="#ros" x="323.8" y="1082.8"/><use href="#ros" x="323.8" y="1103.7"/><use href="#ros" x="323.8" y="1124.6"/><use href="#ros" x="323.8" y="1145.5"/><use href="#ros" x="323.8" y="1166.4"/><use href="#ros" x="323.8" y="1187.3"/><use href="#ros" x="323.8" y="1205"/>
<use href="#pear" transform="translate(323.5,1212) scale(1.05,0.97)"/>
<text class="L" x="277" y="1174" textLength="13" lengthAdjust="spacingAndGlyphs">F</text>
<path class="s" d="M291,1166H318"/>

<!-- I chain -->
<path class="st" d="M437,757 L434.5,775 L428.6,790 L422.6,806 L416,822 L409.3,837.8 L401.2,851.8 L391.4,866.6 L381.9,880.3 L370.8,893.4 L358.9,906.2 L346.7,917.2 L333.3,928.5 L320.2,939 L305.9,947.9 L291.7,956.2 L276.2,963.4 L260.4,959.8 L243.4,958.3 L230,957.7 M276.2,963.4 L264.9,974.7 L250,985.1 L238,993"/>
<use href="#ros" x="434.5" y="775"/><use href="#ros" x="428.6" y="790"/><use href="#ros" x="422.6" y="806"/><use href="#ros" x="416" y="822"/><use href="#ros" x="409.3" y="837.8"/><use href="#ros" x="401.2" y="851.8"/><use href="#ros" x="391.4" y="866.6"/><use href="#ros" x="381.9" y="880.3"/><use href="#ros" x="370.8" y="893.4"/><use href="#ros" x="358.9" y="906.2"/><use href="#ros" x="346.7" y="917.2"/><use href="#ros" x="333.3" y="928.5"/><use href="#ros" x="320.2" y="939"/><use href="#ros" x="305.9" y="947.9"/><use href="#ros" x="291.7" y="956.2"/><use href="#ros" x="276.2" y="963.4"/><use href="#ros" x="260.4" y="959.8"/><use href="#ros" x="243.4" y="958.3"/><use href="#ros" x="264.9" y="974.7"/><use href="#ros" x="250" y="985.1"/>
<path d="M229,953 L227,962 M234,989 L240,997" stroke="#000" stroke-width="1.5"/>
<text class="L" x="354" y="858" textLength="10" lengthAdjust="spacingAndGlyphs">I</text>
<path class="s" d="M365,849.7H395"/>
<path class="s" d="M280,967H309.5"/><text class="n" x="312" y="974">69</text>

<!-- ===== UPPER RIGHT LIGHT ===== -->
<path class="s" d="M648,667.3 C646,690 643,712 639,728 C636,736 634,740 633,742.6 M717,667.3 C719,690 722,712 726,728 C729,736 732,740 734,742.6"/>
<rect class="bd" x="645.2" y="660" width="75" height="7.3"/>
<path class="s" d="M682.5,667.3 L677,702 M682.5,667.3 L688,702"/>
<use href="#bulb" transform="translate(682.5,699.4) scale(1.04,0.99)"/>
<rect class="bd" x="631" y="742.6" width="105" height="6.8"/>
<rect class="w" x="671" y="751.5" width="23" height="71.5"/>
<path class="w" d="M673,753 H692 V785 C692,795 687,799 682.5,799 C678,799 673,795 673,785 Z"/>
<path class="s" d="M673,785H692"/>
<rect class="w" x="678" y="800.6" width="9" height="26.8"/>
<path class="s" d="M687,800H733"/><text class="n" x="735" y="804.5">29</text>
<path class="w" d="M630,819 C633,831 650,839 665,840.5 L697,840.5 C712,838 724,830 729,818.5 Z"/>
<path class="h" d="M729,818.5 C724,830 712,838 697,840.5 L697,834.5 C708,832 718,826 722,818.5 Z"/>
<path class="s" d="M630,819 q6,-6 12,0 q6,-6 12,0 q6,-6 12,0 q6,-6 12,0 M636,820 Q643,838 650,820 M650,820 Q657,840 664,820 M664,820 Q670,840 676,820"/>
<path class="s" d="M682.5,827V856" stroke-dasharray="2 2"/>
<path d="M729,818 L748,836" stroke="#000" stroke-width="1.2"/>
<path class="s" d="M737,823.8H762"/><text class="n" x="764" y="829.5">30</text>
<rect class="w" x="665" y="849.7" width="34.4" height="2"/>
<rect class="w" x="672.6" y="855.6" width="19.4" height="13.4"/>
<path class="st" d="M729.2,818V872"/><use href="#ros" x="729.2" y="834.8"/><use href="#ros" x="729.2" y="856.5"/>
<use href="#pear" transform="translate(729.2,870.5) scale(0.63,0.62)"/>
<path class="s" d="M735,856.5H763"/><text class="n" x="765" y="862">31</text>
<path class="s" d="M741,880.4H763"/><text class="n" x="765" y="886">32</text>
<path class="st" d="M632,820V870"/><use href="#ros" x="632" y="833"/><use href="#ros" x="632" y="855"/>
<use href="#pear" transform="translate(632,868) scale(0.63,0.62)"/>
<text class="n" x="543" y="926.5">28</text><path class="s" d="M561,920H620"/>
<!-- F upper right -->
<path class="st" d="M699.4,851V1026"/>
<use href="#ros" x="699.4" y="866"/><use href="#ros" x="699.4" y="887"/><use href="#ros" x="699.4" y="907"/><use href="#ros" x="699.4" y="928"/><use href="#ros" x="699.4" y="948.8"/><use href="#ros" x="699.4" y="969.6"/><use href="#ros" x="699.4" y="989.6"/><use href="#ros" x="699.4" y="1010.4"/>
<use href="#pear" transform="translate(699.4,1023.8) scale(0.95,0.97)"/>
<text class="L" x="733" y="957" textLength="13" lengthAdjust="spacingAndGlyphs">F</text>
<path class="s" d="M705,948.8H731"/>

<!-- ===== RIGHT LIGHT ===== -->
<path class="s" d="M814,770.8 C812,795 810,815 805,830 C802,838 800,842 798,845.2 M882,770.8 C884,795 886,815 891,830 C894,838 896,842 898,845.2"/>
<rect class="bd" x="811" y="763.4" width="74.4" height="7.4"/>
<path class="s" d="M848,770.8 L843,806 M848,770.8 L853,806"/>
<use href="#bulb" transform="translate(849,803.6) scale(1.05,0.99)"/>
<rect class="bd" x="795.2" y="845.2" width="106" height="7.5"/>
<path class="s" d="M893,827.4H916"/><text class="n" x="918" y="833">33</text>
<rect class="w" x="838" y="854.8" width="20.6" height="69.2"/>
<path class="w" d="M840,857 H856.6 V888 C856.6,897 852,901 848.3,901 C844.6,901 840,897 840,888 Z"/>
<path class="s" d="M840,886H856.6"/>
<rect class="w" x="843.8" y="906.3" width="8.9" height="23.7"/>
<path class="s" d="M858.6,863.7H916"/><text class="n" x="918" y="869">34</text>
<path class="s" d="M858.6,882.4H916"/><text class="n" x="918" y="888">35</text>
<path class="s" d="M852,904.8H916"/><text class="n" x="918" y="910">36</text>
<path class="s" d="M852.7,922H916"/><text class="n" x="918" y="927.5">37</text>
<path class="w" d="M800.6,920 C803,932 815,943 830,946.4 L862,946.4 C877,943 890,932 895.8,920 Z"/>
<path class="h" d="M895.8,920 C890,932 877,943 862,946.4 L862,940 C873,937 884,930 888,920 Z"/>
<path class="s" d="M800.6,920 q6,-6 12,0 q6,-6 12,0 q6,-6 12,0 q6,-6 12,0 M806,921 Q813,940 820,921 M820,921 Q827,942 834,921 M834,921 Q840,942 846,921"/>
<path class="s" d="M848,930V958" stroke-dasharray="2 2"/>
<path class="s" d="M895,939H916"/><text class="n" x="918" y="944.5">38</text>
<rect class="w" x="830.4" y="952.4" width="35.6" height="2.4"/>
<path class="s" d="M866,953H916"/><text class="n" x="918" y="958.5">39</text>
<rect class="w" x="837.8" y="958.3" width="20.8" height="14.9"/>
<path class="s" d="M872,968.8H916"/><text class="n" x="918" y="974">40</text>
<path class="s" d="M858.6,998.5H916"/><text class="n" x="918" y="1004">41</text>
<path class="st" d="M802,921V973"/><use href="#ros" x="802" y="938.4"/><use href="#ros" x="802" y="958.3"/>
<use href="#pear" transform="translate(802,971.7) scale(0.63,0.64)"/>
<path class="st" d="M894.3,921V973"/><use href="#ros" x="894.3" y="938.4"/><use href="#ros" x="894.3" y="958.3"/>
<use href="#pear" transform="translate(894.3,971.7) scale(0.63,0.64)"/>
<path class="st" d="M866,954V1061"/>
<use href="#ros" x="866" y="969.6"/><use href="#ros" x="866" y="989.6"/><use href="#ros" x="866" y="1010.4"/><use href="#ros" x="866" y="1031.25"/><use href="#ros" x="866" y="1052"/>
<use href="#drop" transform="translate(866,1059.5) scale(0.97,0.94)"/>
<path class="s" d="M884,1076.5H916"/><text class="n" x="918" y="1082">42</text>
<!-- E right -->
<rect class="w" x="763.4" y="1062.5" width="6" height="44.5" rx="3"/><path class="s" d="M766.4,1066V1103"/>
<path class="st" d="M766.4,1107V1120"/><use href="#ros" x="766.4" y="1113"/>
<use href="#drop" transform="translate(766.4,1118) scale(1.2,1)"/>
<!-- J right & 43-45 -->
<path d="M668,1027 L690,1015" stroke="#000" stroke-width="4.5"/>
<path class="st" d="M669,1026V1201"/>
<use href="#ros" x="669" y="1041.7"/><use href="#ros" x="669" y="1062.5"/><use href="#ros" x="669" y="1083.3"/><use href="#ros" x="669" y="1104.2"/><use href="#ros" x="669" y="1125"/><use href="#ros" x="669" y="1145.8"/><use href="#ros" x="669" y="1166.7"/><use href="#ros" x="669" y="1186.9"/>
<use href="#pear" transform="translate(669,1199.4) scale(0.95,0.97)"/>
<path class="s" d="M674,1177H708"/><text class="n" x="710" y="1182.5">43</text>
<path class="s" d="M674,1196H708"/><text class="n" x="710" y="1201.5">44</text>
<path class="s" d="M688,1217H708"/><text class="n" x="710" y="1222.5">45</text>

<!-- ===== BOTTOM-LEFT I LEGEND ===== -->
<path class="st" d="M117,1290V1362 L84,1430 M117,1362 L149,1430"/>
<use href="#ros" x="117" y="1303.6"/><use href="#ros" x="117" y="1318.5"/><use href="#ros" x="117" y="1338.7"/><use href="#ros" x="117" y="1354.8"/>
<use href="#ros" x="108.6" y="1370.5"/><use href="#ros" x="102.7" y="1386.9"/><use href="#ros" x="95.2" y="1404.8"/><use href="#ros" x="87.8" y="1419.6"/>
<use href="#ros" x="125" y="1370.5"/><use href="#ros" x="131.5" y="1386.9"/><use href="#ros" x="139.9" y="1404.8"/><use href="#ros" x="145.8" y="1419.6"/>
<path d="M97,1317 q10,-6 21,0 t21,0 M97,1323 q10,-6 21,0 t21,0" stroke="#fff" stroke-width="4" fill="none"/>
<path class="s" d="M97,1317 q10,-6 21,0 t21,0 M97,1323 q10,-6 21,0 t21,0"/>
<path d="M74,1399 q10,-6 20,0 t20,0 M74,1405 q10,-6 20,0 t20,0 M121,1405 q10,-6 19,0 t19,0 M121,1399 q10,6 19,0 t19,0" stroke="#fff" stroke-width="4" fill="none"/>
<path class="s" d="M74,1399 q10,-6 20,0 t20,0 M74,1405 q10,-6 20,0 t20,0 M121,1405 q10,-6 19,0 t19,0 M121,1399 q10,6 19,0 t19,0"/>
<path class="s" d="M123,1337H167M131,1369.6H167"/>
<text class="n" x="168" y="1342.5" textLength="42" lengthAdjust="spacingAndGlyphs">15PCS</text>
<text class="n" x="168" y="1375" textLength="42" lengthAdjust="spacingAndGlyphs">18PCS</text>
<text class="lg" x="77" y="1463.5" textLength="124" lengthAdjust="spacingAndGlyphs">I:14#*15+14#*1+</text>
<text class="lg" x="89" y="1493" textLength="153" lengthAdjust="spacingAndGlyphs">14#*18+14#*18, 6Pcs</text>

<!-- ===== TITLE ===== -->
<text class="big" x="684" y="1402" textLength="96" lengthAdjust="spacingAndGlyphs">715187</text>
<text class="big" x="623" y="1463" textLength="225" lengthAdjust="spacingAndGlyphs">SIZE:⌀1030H880</text>
</svg>
</body></html>
